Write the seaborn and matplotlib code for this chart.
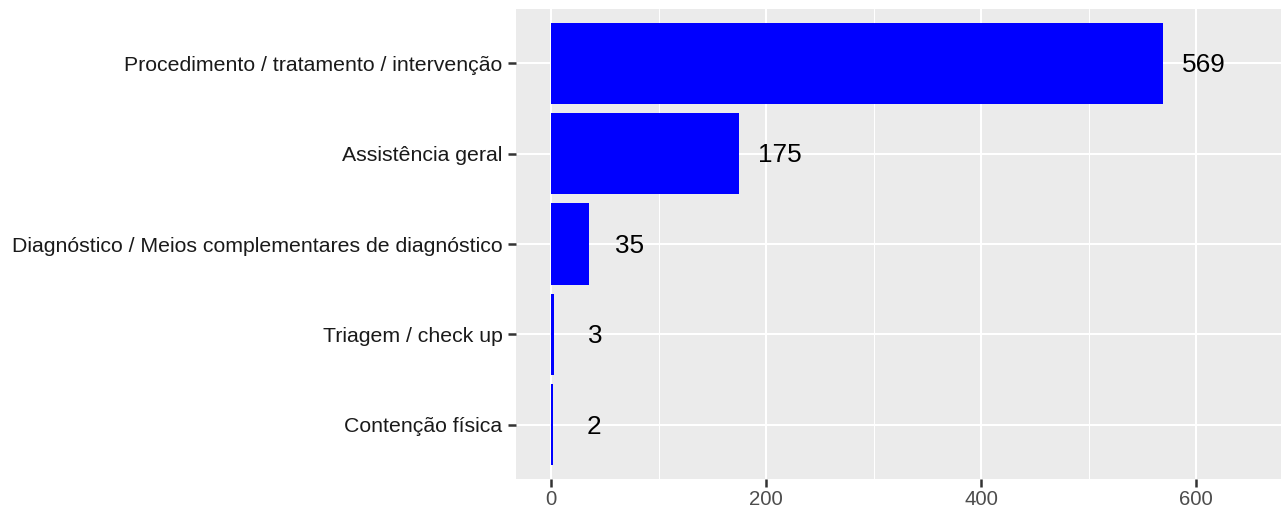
import matplotlib
matplotlib.use("Agg")
import matplotlib.pyplot as plt
import seaborn as sns
import pandas as pd

categories = [
    "Procedimento / tratamento / intervenção",
    "Assistência geral",
    "Diagnóstico / Meios complementares de diagnóstico",
    "Triagem / check up",
    "Contenção física",
]
values = [569, 175, 35, 3, 2]
x_ticks = [0, 200, 400, 600]

df = pd.DataFrame({"cat": categories, "n": values})

sns.set_theme(style="darkgrid")
plt.rcParams["font.family"] = ["Liberation Sans", "DejaVu Sans"]

fig = plt.figure(figsize=(12.81, 5.09), dpi=100)
ax = fig.add_axes([516 / 1281, (509 - 479) / 509, 1 - 516 / 1281, 470 / 509])
ax.set_facecolor("#EBEBEB")

sns.barplot(data=df, x="n", y="cat", orient="h", color="#0000FF",
            saturation=1, width=0.9, order=categories, ax=ax, zorder=3,
            linewidth=0, edgecolor="none")

for i, v in enumerate(values):
    ax.text(v + 38, i + 0.02, str(v), ha="center", va="center", fontsize=18.8,
            color="black", zorder=4)

ax.set_xlim(-32.6, 679)
ax.set_ylim(4.6, -0.6)
ax.set_xticks(x_ticks)
ax.set_xticks([100, 300, 500], minor=True)
ax.grid(which="major", color="white", linewidth=1.5, zorder=0)
ax.grid(which="minor", axis="x", color="white", linewidth=0.75, zorder=0)
ax.set_axisbelow(True)
for s in ax.spines.values():
    s.set_visible(False)
ax.tick_params(axis="both", which="major", length=5.5, width=1.8, color="#333333",
               direction="out", pad=4.3, bottom=True, left=True)
ax.tick_params(axis="x", which="major", pad=2.5)
ax.tick_params(axis="x", which="minor", length=0, bottom=False)
ax.tick_params(axis="x", labelsize=14.7, labelcolor="#4D4D4D")
ax.tick_params(axis="y", labelsize=15.3, labelcolor="#1A1A1A")
ax.set_xlabel("")
ax.set_ylabel("")

fig.savefig("out.png", dpi=100)
